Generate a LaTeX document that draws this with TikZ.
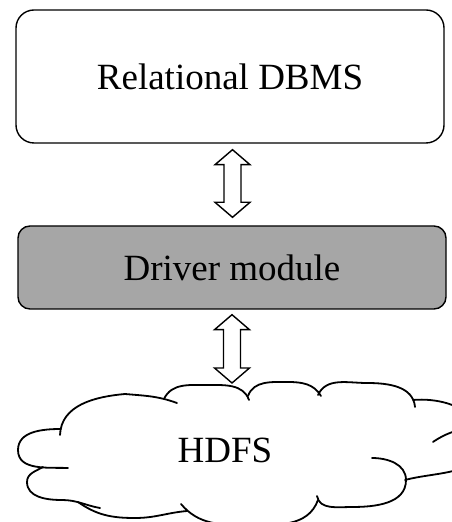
\documentclass[tikz,border=0pt]{standalone}
\usepackage{fontspec}
\setmainfont{Liberation Serif}
\usetikzlibrary{calc}
\definecolor{drvgray}{HTML}{A6A6A6}
\tikzset{
  box/.style={draw=black, line width=1.4pt, align=center, inner sep=0pt,
    font=\fontsize{37}{40}\selectfont},
  lobe/.style={draw=black, line width=1.8pt, line cap=round},
  dblarrow/.style={draw=black, fill=white, line width=1.4pt, line join=miter,
    to path={let \p1=(\tikztostart), \p2=(\tikztotarget) in
      (\x1,\y1) -- (\x1-17.5pt,\y1-15pt) -- (\x1-8.5pt,\y1-15pt)
      -- (\x1-8.5pt,\y2+15pt) -- (\x1-17.5pt,\y2+15pt) -- (\x2,\y2)
      -- (\x1+17.5pt,\y2+15pt) -- (\x1+8.5pt,\y2+15pt)
      -- (\x1+8.5pt,\y1-15pt) -- (\x1+17.5pt,\y1-15pt) -- cycle}}
}
\begin{document}
\begin{tikzpicture}[x=1pt,y=1pt]
\useasboundingbox (0,0) rectangle (452,522);
\clip (0,0) rectangle (452,522);

% the two boxes
\node[box, minimum width=428pt, minimum height=133pt, rounded corners=18pt]
  (rdb) at (230,445.5) {Relational DBMS};
\node[box, fill=drvgray, minimum width=428pt, minimum height=83pt, rounded corners=12pt]
  (drv) at (232,254.5) {Driver module};

% cloud outline, lobe by lobe
\draw[lobe] (60,87) to[out=88,in=185] (125,128) to[out=-5,in=160] (177,119);
\draw[lobe] (164,123) to[out=65,in=180] (207,137) to[out=0,in=110] (249,122);
\draw[lobe] (248,126) to[out=70,in=180] (288,140) to[out=0,in=120] (321,126);
\draw[lobe] (318,127) to[out=65,in=180] (367,139) to[out=0,in=95] (415,115);
\draw[lobe] (413,122) to[out=5,in=90] (482,80) to[out=-90,in=15] (405,42);
\draw[lobe] (433,80) to[out=35,in=200] (470,96);
\draw[lobe] (372,64) to[out=0,in=90] (406,42) to[out=-90,in=0] (352,15) to[out=180,in=-80] (317,26);
\draw[lobe] (318,22) to[out=-110,in=0] (247,-3) to[out=180,in=-50] (181,18);
\draw[lobe] (187,11) to[out=185,in=0] (135,4) to[out=180,in=-35] (78,20);
\draw[lobe] (43,55) to[out=210,in=90] (27,40) to[out=-90,in=180] (62,22) to[out=0,in=170] (100,14);
\draw[lobe] (61,93) to[out=180,in=90] (18,72) to[out=-90,in=178] (68,54);

\node[font=\fontsize{37}{40}\selectfont, inner sep=0pt] (hdfs) at (225,72) {HDFS};
\coordinate (cloudtop) at (232,139);

% double-headed connectors
\draw[dblarrow] ([xshift=2.5pt,yshift=-6pt]rdb.south) to ([xshift=0.5pt,yshift=8pt]drv.north);
\draw[dblarrow] ([yshift=-5pt]drv.south) to (cloudtop);
\end{tikzpicture}
\end{document}
